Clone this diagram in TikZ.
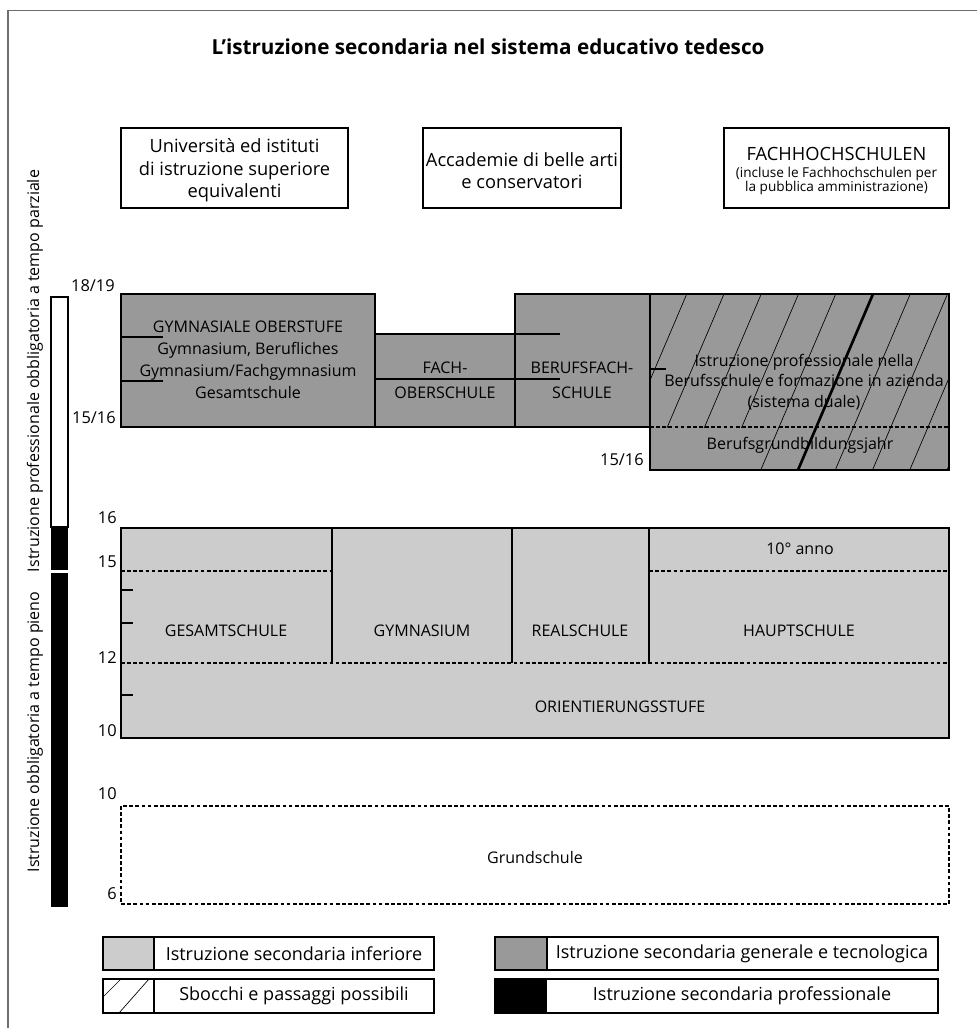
\documentclass[tikz,border=0pt]{standalone}
\usepackage{fontspec}
\setmainfont{Open Sans}
\definecolor{lightg}{HTML}{CCCCCC}
\definecolor{darkg}{HTML}{999999}
\definecolor{framec}{HTML}{6E6E6E}
\begin{document}
\begin{tikzpicture}[x=0.75pt,y=-0.75pt,
  bx/.style={draw=black, line width=0.8pt},
  dsh/.style={dash pattern=on 2.8pt off 1.8pt},
  txt/.style={font=\fontsize{12}{16.5}\selectfont, inner sep=0pt, align=center},
  num/.style={font=\fontsize{12.3}{14}\selectfont, inner sep=0pt, anchor=east},
  ttop/.style={font=\fontsize{13.7}{16.9}\selectfont, inner sep=0pt, align=center},
  tsmall/.style={font=\fontsize{10.2}{10.5}\selectfont, inner sep=0pt, align=center},
  tleg/.style={font=\fontsize{13.5}{16}\selectfont, inner sep=0pt},
  rot/.style={font=\fontsize{12}{14}\selectfont, inner sep=0pt, rotate=90},
  hatch/.style={draw=black, line width=0.5pt}
]
\useasboundingbox (0,0) rectangle (976,1028);
% frame
\draw[framec, line width=1.4pt] (8,1030) -- (8,10.5) -- (978,10.5);
% title
\node[font=\bfseries\fontsize{15.5}{18}\selectfont, inner sep=0pt] (title) at (488,47) {L’istruzione secondaria nel sistema educativo tedesco};

% top boxes
\draw[bx] (121,128) rectangle (348,208);
\draw[bx] (423,128) rectangle (621,208);
\draw[bx] (724,128) rectangle (949,208);
\node[ttop] (uni) at (234.5,170.5) {Università ed istituti\\di istruzione superiore\\equivalenti};
\node[ttop] (acc) at (522,170.5) {Accademie di belle arti\\e conservatori};
\node[ttop] (fhs) at (836.5,154) {FACHHOCHSCHULEN};
\node[tsmall] (fhs2) at (836.5,180.5) {(incluse le Fachhochschulen per\\la pubblica amministrazione)};

% left vertical bar
\draw[bx, fill=white] (51,297) rectangle (68,527);
\fill[black] (51,527) rectangle (68,569.5);
\fill[black] (51,572.5) rectangle (68,907);
\node[rot] (vt1) at (35,371) {Istruzione professionale obbligatoria a tempo parziale};
\node[rot] (vt2) at (35,732) {Istruzione obbligatoria a tempo pieno};

% upper section
\draw[bx, fill=darkg] (121,294) rectangle (375,427);
\draw[bx, fill=darkg] (375,334) rectangle (515,427);
\draw[bx, fill=darkg] (515,294) rectangle (650,427);
\fill[darkg] (650,294) rectangle (949,470);
\begin{scope}
  \clip (650,294) rectangle (949,427);
  \foreach \k in {-7,...,5}
    \draw[hatch] ({873+37.25*\k},294) -- ++(-75,176);
\end{scope}
\begin{scope}
  \clip (650,427) rectangle (949,470);
  \foreach \k in {-1,...,5}
    \draw[hatch] ({873+37.25*\k},294) -- ++(-75,176);
\end{scope}
\draw[black, line width=2pt] (873,294) -- (798,470);
\draw[bx, dsh] (650,427) -- (949,427);
\draw[bx] (650,294) rectangle (949,470);
\draw[bx] (375,379) -- (560,379);
\draw[bx] (515,334) -- (560,334);
\draw[bx] (121,337) -- (163,337);
\draw[bx] (121,381) -- (163,381);
\draw[bx] (650,369) -- (666,369);

\node[num] (n1819) at (115,286) {18/19};
\node[num] (n1516a) at (116,418) {15/16};
\node[num] (n1516b) at (644,460) {15/16};

\node[txt] (gym) at (248,359.5) {GYMNASIALE OBERSTUFE\\Gymnasium, Berufliches\\Gymnasium/Fachgymnasium\\Gesamtschule};
\node[txt, font=\fontsize{12}{18.75}\selectfont] (fos) at (445,380.5) {FACH-\\OBERSCHULE};
\node[txt, font=\fontsize{12}{18.75}\selectfont] (bfs) at (582,380.5) {BERUFSFACH-\\SCHULE};
\node[txt, font=\fontsize{12}{15.4}\selectfont] (dual) at (804,382) {Istruzione professionale nella\\Berufsschule e formazione in azienda\\(sistema duale)};
\node[txt] (bgj) at (800,445) {Berufsgrundbildungsjahr};

% lower section
\draw[bx, fill=lightg] (121,528) rectangle (949,738);
\draw[bx] (332,528) -- (332,663);
\draw[bx] (512,528) -- (512,663);
\draw[bx] (649,528) -- (649,663);
\draw[bx, dsh] (121,571) -- (332,571);
\draw[bx, dsh] (649,571) -- (949,571);
\draw[bx, dsh] (121,663) -- (949,663);
\draw[bx] (121,590) -- (133,590);
\draw[bx] (121,623) -- (133,623);
\draw[bx] (121,695) -- (133,695);

\node[num] (n16) at (117,518) {16};
\node[num] (n15) at (117,562) {15};
\node[num] (n12) at (117,658) {12};
\node[num] (n10a) at (117,731) {10};

\node[txt] (ges) at (226,631) {GESAMTSCHULE};
\node[txt] (gyl) at (422,631) {GYMNASIUM};
\node[txt] (real) at (580,631) {REALSCHULE};
\node[txt] (haupt) at (799,631) {HAUPTSCHULE};
\node[txt] (zehn) at (800,549) {10° anno};
\node[txt] (ori) at (620,707) {ORIENTIERUNGSSTUFE};

% Grundschule
\draw[bx, dsh] (121,806) rectangle (949,904);
\node[num] (n10b) at (117,794) {10};
\node[num] (n6) at (117,894) {6};
\node[txt] (grund) at (535,857) {Grundschule};

% legend
\draw[bx] (103,937) rectangle (434,970);
\draw[bx, fill=lightg] (103,937) rectangle (154,970);
\draw[bx] (103,979) rectangle (434,1013);
\draw[bx] (154,979) -- (154,1013);
\draw[hatch] (103,997) -- (121,979);
\draw[hatch] (119,1013) -- (149,979);
\draw[bx] (495,937) rectangle (938,970);
\draw[bx, fill=darkg] (495,937) rectangle (547,970);
\draw[bx] (495,979) rectangle (938,1013);
\fill[black] (495,979) rectangle (547,1013);

\node[tleg] (leg1) at (294,953.5) {Istruzione secondaria inferiore};
\node[tleg] (leg2) at (294,996) {Sbocchi e passaggi possibili};
\node[tleg] (leg3) at (742,953.5) {Istruzione secondaria generale e tecnologica};
\node[tleg] (leg4) at (742,996) {Istruzione secondaria professionale};
\end{tikzpicture}
\end{document}
